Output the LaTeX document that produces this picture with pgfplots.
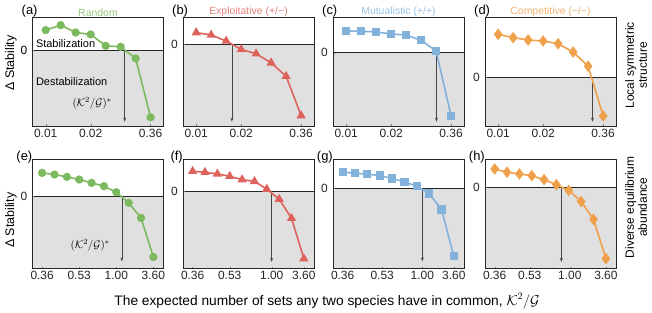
\documentclass[border=0pt]{standalone}
\usepackage{fontspec}
\setmainfont{Liberation Sans}
\usepackage{pgfplots}
\pgfplotsset{compat=1.18}
\usetikzlibrary{arrows.meta}
\definecolor{cgreen}{RGB}{125,185,95}
\definecolor{cred}{RGB}{222,98,92}
\definecolor{cblue}{RGB}{130,178,220}
\definecolor{corange}{RGB}{240,160,75}
\definecolor{tgreen}{RGB}{150,200,125}
\definecolor{tred}{RGB}{228,130,125}
\definecolor{tblue}{RGB}{155,195,228}
\definecolor{torange}{RGB}{242,180,115}
\definecolor{shadec}{RGB}{224,224,224}
\definecolor{arr}{RGB}{70,70,70}
\pgfplotsset{
 panel/.style={scale only axis, width=131bp, height=108.5bp, anchor=south west,
  axis on top,
  ytick={0}, yticklabels={}, tick align=inside, major tick length=1.5bp,
  xtick pos=lower, ytick pos=left,
  tick style={black!50, line width=0.3pt}, axis line style={black!85, line width=0.6pt},
  ticklabel style={font=\fontsize{12}{14}\selectfont, text=black!85},
  /pgf/number format/assume math mode=true,
  clip=true},
 row1/.style={panel, xmin=-0.88, xmax=7.86, xtick={0,3,7}, xticklabels={0.01,0.02,0.36}},
 row2/.style={panel, xmin=-0.78, xmax=9.82},
 ser/.style={line width=1.6bp, mark options={solid}},
 ttl/.style 2 args={extra description/.append code={\node[anchor=south, inner sep=1bp, text=#1, font=\fontsize{10.5}{12}\selectfont] at (axis description cs:0.5,1) {#2};}},
 plA/.style={extra description/.append code={\node[anchor=base west, inner sep=0pt, font=\fontsize{13}{14}\selectfont] at ([xshift=-11bp, yshift=3bp]axis description cs:0,1) {#1};}},
 plB/.style={extra description/.append code={\node[anchor=base east, inner sep=0pt, font=\fontsize{13}{14}\selectfont] at ([yshift=-0.5bp]axis description cs:0,1) {#1};}},
 zlab/.style={extra description/.append code={\node[anchor=east, inner sep=0pt, text=black!85, font=\fontsize{12}{14}\selectfont] at ([xshift=-5bp]axis description cs:0,#1) {0};}},
 dlab/.style={extra description/.append code={\node[rotate=90, inner sep=0pt, font=\fontsize{12.5}{14}\selectfont] at ([xshift=-21.5bp]axis description cs:0,#1) {Δ Stability};}},
 rlab/.style={extra description/.append code={\node[rotate=90, align=center, inner sep=0pt, font=\fontsize{12}{13}\selectfont] at ([xshift=20bp]axis description cs:1,0.56) {#1};}},
}
\newcommand{\zshade}{\fill[shadec] (axis cs:-5,-1000) rectangle (axis cs:20,0);
 \draw[black!85, line width=0.6pt] (axis cs:-5,0) -- (axis cs:20,0);}
\newcommand{\crit}[2]{\draw[arr, line width=0.6pt, -{Stealth[length=4bp,width=3bp]}] (axis cs:#1,0) -- (axis cs:#1,#2);}
\begin{document}
\begin{tikzpicture}[x=1bp,y=1bp]
\path[use as bounding box] (0,0) rectangle (652,312);
% ---------- row 1 ----------
\begin{axis}[row1, at={(32.5bp,186bp)}, ymin=-228, ymax=98, ttl={tgreen}{Random}, plA={(a)}, dlab=0.58]
\zshade
\crit{5.27}{-215}
\addplot[ser, cgreen, mark=*, mark size=3.3bp] coordinates {(0,60) (1,75) (2,53) (3,47) (4,13) (5,10) (6,-25) (7,-202)};
\node[anchor=west, font=\fontsize{11}{13}\selectfont] at (rel axis cs:0.0,0.76) {Stabilization};
\node[anchor=west, font=\fontsize{11}{13}\selectfont] at (rel axis cs:0.0,0.405) {Destabilization};
\node[anchor=east, font=\fontsize{11}{13}\selectfont] at (rel axis cs:0.63,0.21) {$(\mathcal{K}^2/\mathcal{G})^*$};
\end{axis}
\begin{axis}[row1, at={(183bp,186bp)}, ymin=-244, ymax=79, ttl={tred}{Exploitative (+/−)}, plA={(b)}, zlab=0.755]
\zshade
\crit{2.38}{-231}
\addplot[ser, cred, mark=triangle*, mark size=3.8bp] coordinates {(0,34) (1,27) (2,9) (3,-16) (4,-29) (5,-56) (6,-96) (7,-213)};
\end{axis}
\begin{axis}[row1, at={(333bp,186bp)}, ymin=-218, ymax=105, ttl={tblue}{Mutualistic (+/+)}, plA={(c)}, zlab=0.675]
\zshade
\crit{6.02}{-205}
\addplot[ser, cblue, mark=square*, mark size=3.3bp] coordinates {(0,65) (1,64) (2,62) (3,56) (4,53) (5,37) (6,5) (7,-188)};
\end{axis}
\begin{axis}[row1, at={(485bp,186bp)}, ymin=-145, ymax=178, ttl={torange}{Competitive (−/−)}, plA={(d)}, zlab=0.449, rlab={Local symmetric\\structure}]
\zshade
\crit{6.29}{-132}
\addplot[ser, corange, mark=diamond*, mark size=4.5bp] coordinates {(0,128) (1,118) (2,111) (3,108) (4,100) (5,75) (6,33) (7,-115)};
\end{axis}
% ---------- row 2 ----------
\begin{axis}[row2, at={(32.5bp,44bp)}, ymin=-215, ymax=110, xtick={0,3,6,9}, xticklabels={0.36,0.53,1.00,3.60}, plB={(e)}, zlab=0.662, dlab=0.44]
\zshade
\crit{6.45}{-195}
\addplot[ser, cgreen, mark=*, mark size=3.3bp] coordinates {(0,70) (1,65) (2,58) (3,50) (4,40) (5,30) (6,12) (7,-20) (8,-65) (9,-182)};
\node[anchor=east, font=\fontsize{11}{13}\selectfont] at (rel axis cs:0.615,0.21) {$(\mathcal{K}^2/\mathcal{G})^*$};
\end{axis}
\begin{axis}[row2, at={(183bp,44bp)}, ymin=-228, ymax=95, xtick={0,3,6.4,9}, xticklabels={0.36,0.53,1.00,3.60}, plB={(f)}, zlab=0.706]
\zshade
\crit{6.39}{-210}
\addplot[ser, cred, mark=triangle*, mark size=3.8bp] coordinates {(0,60) (1,57) (2,52) (3,45) (4,35) (5,30) (6,7) (7,-23) (8,-80) (9,-200)};
\end{axis}
\begin{axis}[row2, at={(333bp,44bp)}, ymin=-238, ymax=87, xtick={0,3.2,6.45,9}, xticklabels={0.36,0.53,1.00,3.60}, plB={(g)}, zlab=0.732]
\zshade
\crit{6.45}{-218}
\addplot[ser, cblue, mark=square*, mark size=3.3bp] coordinates {(0,49) (1,46) (2,43) (3,39) (4,30) (5,20) (6,7) (7,-15) (8,-63) (9,-203)};
\end{axis}
\begin{axis}[row2, at={(485bp,44bp)}, ymin=-240, ymax=83, xtick={0,2.84,6.08,9}, xticklabels={0.36,0.53,1.00,3.60}, plB={(h)}, zlab=0.743, rlab={Diverse equilibrium\\abundance}]
\zshade
\crit{5.4}{-222}
\addplot[ser, corange, mark=diamond*, mark size=4.5bp] coordinates {(0,55) (1,45) (2,40) (3,35) (4,23) (5,8) (6,-9) (7,-42) (8,-95) (9,-212)};
\end{axis}
\node[font=\fontsize{13.8}{15}\selectfont] at (327,11) {The expected number of sets any two species have in common, $\mathcal{K}^2/\mathcal{G}$};
\node[anchor=east, inner sep=0.5bp, fill=white, text=black, font=\fontsize{12}{14}\selectfont] at (28,262) {0};
\end{tikzpicture}
\end{document}
